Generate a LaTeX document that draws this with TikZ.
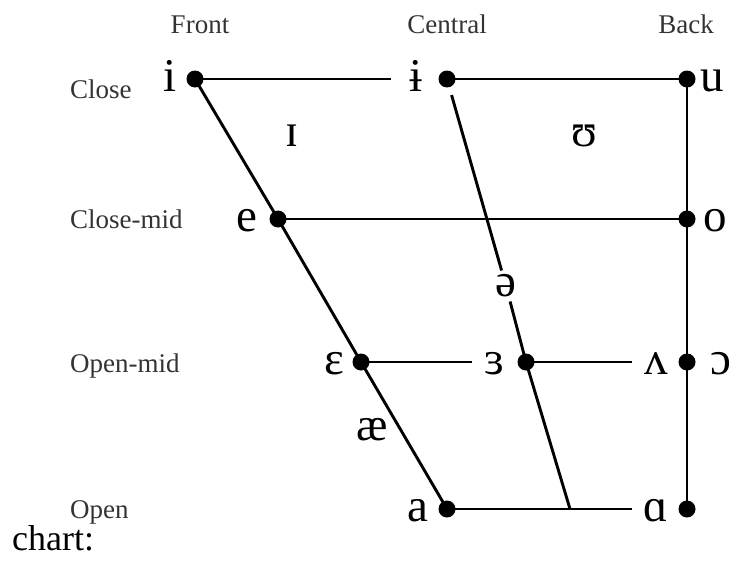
\documentclass[tikz,border=0pt]{standalone}
\usepackage{fontspec}
\setmainfont{Liberation Serif}

\begin{document}
\begin{tikzpicture}[x=1pt,y=-1pt,
  dot/.style={circle,fill=black,inner sep=0pt,minimum size=17pt},
  vowel/.style={font=\fontsize{47}{47}\selectfont,inner sep=0pt},
  hdr/.style={font=\fontsize{27}{27}\selectfont,text=black!80,inner sep=0pt},
  edge/.style={line width=2.9pt},
  gap/.style={shorten >=12pt}]
\useasboundingbox (0,0) rectangle (734,562);
% column and row labels
\node[hdr,anchor=base] (front) at (200,33) {Front};
\node[hdr,anchor=base] (central) at (447,33) {Central};
\node[hdr,anchor=base] (back) at (686,33) {Back};
\foreach \y/\t/\n in {98/Close/close,228/Close-mid/closemid,372/Open-mid/openmid,518/Open/open}
  {\node[hdr,anchor=base west] (\n) at (70,\y) {\t};}
% dots
\node[dot] (di) at (195,79) {};
\node[dot] (dibar) at (447,79) {};
\node[dot] (du) at (687,79) {};
\node[dot] (de) at (278,219) {};
\node[dot] (do) at (687,219) {};
\node[dot] (deps) at (361,362) {};
\node[dot] (drev) at (526,362) {};
\node[dot] (dopen) at (687,362) {};
\node[dot] (da) at (447,509) {};
\node[dot] (dalpha) at (687,509) {};
\coordinate (cend) at (570,509);
% vowel symbols
\node[vowel,anchor=base] (i) at (170,91) {i};
\node[vowel,anchor=base] (ibar) at (416,91) {ɨ};
\node[vowel,anchor=base] (u) at (712,91) {u};
\node[vowel,anchor=base] (e) at (247,231) {e};
\node[vowel,anchor=base] (o) at (715,231) {o};
\node[vowel,anchor=base] (eps) at (334,374) {ɛ};
\node[vowel,anchor=base] (rev) at (494,374) {ɜ};
\node[vowel,anchor=base] (wedge) at (656,374) {ʌ};
\node[vowel,anchor=base] (oo) at (721,374) {ɔ};
\node[vowel,anchor=base] (a) at (418,521) {a};
\node[vowel,anchor=base] (alpha) at (656,521) {ɑ};
\node[vowel] (ih) at (292,136) {ɪ};
\node[vowel] (uh) at (584,136) {ʊ};
\node[vowel,inner sep=4pt] (schwa) at (506,286) {ə};
\node[vowel] (ae) at (372,430) {æ};
% lines
\draw[edge,shorten >=18pt] (di.center) -- (di.center -| ibar.west);
\draw[edge] (dibar.center) -- (du.center);
\draw[edge] (de.center) -- (do.center);
\draw[edge,gap] (deps.center) -- (deps.center -| rev.west);
\draw[edge,gap] (drev.center) -- (drev.center -| wedge.west);
\draw[edge,gap] (da.center) -- (da.center -| alpha.west);
\draw[edge] (di.center) -- (de.center) -- (deps.center) -- (da.center);
\draw[edge] (du.center) -- (do.center) -- (dopen.center) -- (dalpha.center);
\draw[edge,shorten <=8pt] (dibar) -- (schwa);
\draw[edge] (schwa) -- (drev.center) -- (cend);
\node[font=\fontsize{36}{36}\selectfont,anchor=base west,inner sep=0pt] (chart) at (12,550) {chart:};
\end{tikzpicture}
\end{document}
